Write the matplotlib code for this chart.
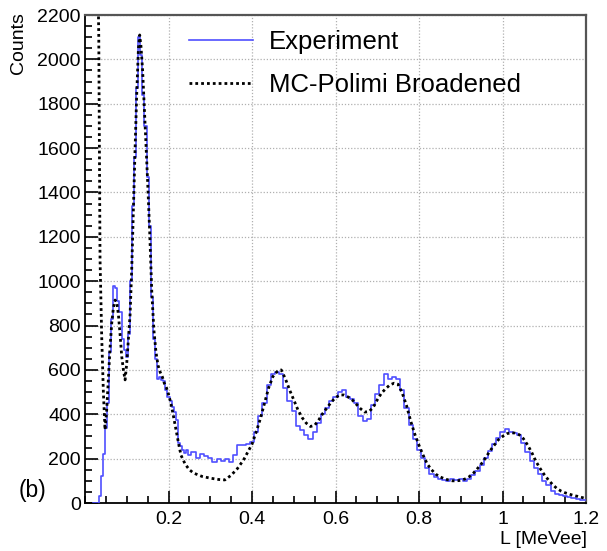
import numpy as np
import matplotlib
matplotlib.use("Agg")
import matplotlib.pyplot as plt
from matplotlib.ticker import MultipleLocator, FixedLocator, FixedFormatter

plt.rcParams['font.family'] = ['Liberation Sans', 'DejaVu Sans']

# ---------------- data ----------------
# Experiment histogram: bin centres (fine bins below 0.25 MeVee, 0.01 above)
exp_L = np.round(np.r_[np.arange(0.020, 0.2499, 0.005), np.arange(0.25, 1.2001, 0.01)], 3)
exp_counts = [
    0, 0, 0, 30, 120, 220, 340, 450, 680, 830,          # 0.020-0.065
    980, 970, 910, 860, 740, 690, 660, 760, 1000, 1340,  # 0.070-0.115
    1560, 1870, 2100, 2020, 1840, 1700, 1470, 1250, 930, 740,  # 0.120-0.165
    650, 560, 570, 555, 550, 510, 480, 460, 435, 410,    # 0.170-0.215
    374, 270, 255, 240, 225, 240,                        # 0.220-0.245
    215, 228, 205, 220, 210, 205, 185, 200, 190, 200,    # 0.25-0.34
    185, 215, 260, 262, 268, 275, 320, 390, 450, 530,    # 0.35-0.44
    580, 590, 580, 520, 460, 415, 345, 330, 305, 290,    # 0.45-0.54
    320, 360, 400, 430, 460, 480, 500, 510, 480, 470,    # 0.55-0.64
    450, 390, 370, 380, 440, 490, 530, 580, 560, 570,    # 0.65-0.74
    560, 510, 430, 350, 290, 240, 205, 160, 130, 118,    # 0.75-0.84
    110, 104, 100, 108, 104, 110, 98, 110, 125, 145,     # 0.85-0.94
    170, 205, 235, 265, 295, 320, 335, 320, 315, 305,    # 0.95-1.04
    270, 230, 190, 160, 130, 100, 80, 55, 40, 35,        # 1.05-1.14
    30, 28, 22, 20, 15, 12,                              # 1.15-1.20
]

# MC-Polimi broadened simulation
mc_L = [0.030, 0.033, 0.036, 0.040, 0.044, 0.048, 0.052, 0.056, 0.060, 0.064,
        0.068, 0.072, 0.076, 0.080, 0.084, 0.088, 0.092, 0.096, 0.100, 0.104,
        0.108, 0.112, 0.116, 0.120, 0.124, 0.128, 0.131, 0.134, 0.138, 0.142,
        0.146, 0.150, 0.155, 0.160, 0.165, 0.170, 0.175, 0.180, 0.185, 0.190,
        0.195, 0.200, 0.205, 0.210, 0.215, 0.220, 0.225, 0.230, 0.240, 0.250,
        0.260, 0.280, 0.300, 0.320, 0.335, 0.350, 0.365, 0.380, 0.390, 0.400,
        0.410, 0.420, 0.430, 0.440, 0.450, 0.460, 0.470, 0.480, 0.490, 0.500,
        0.510, 0.520, 0.530, 0.540, 0.550, 0.560, 0.570, 0.580, 0.590, 0.600,
        0.610, 0.620, 0.630, 0.640, 0.650, 0.660, 0.670, 0.680, 0.690, 0.700,
        0.710, 0.720, 0.730, 0.740, 0.750, 0.760, 0.770, 0.780, 0.790, 0.800,
        0.810, 0.820, 0.830, 0.840, 0.850, 0.860, 0.870, 0.880, 0.890, 0.900,
        0.910, 0.920, 0.930, 0.940, 0.950, 0.960, 0.970, 0.980, 0.990, 1.000,
        1.010, 1.020, 1.030, 1.040, 1.050, 1.060, 1.070, 1.080, 1.090, 1.100,
        1.110, 1.120, 1.130, 1.140, 1.150, 1.160, 1.170, 1.180, 1.190, 1.200]
mc_counts = [2500, 2100, 1100, 750, 500, 330, 420, 560, 700, 810,
             880, 915, 905, 850, 760, 660, 600, 555, 630, 740,
             850, 1060, 1330, 1600, 1850, 2050, 2110, 2060, 1950, 1790,
             1620, 1450, 1220, 950, 780, 680, 620, 590, 570, 540,
             520, 490, 455, 410, 360, 310, 260, 215, 175, 150,
             135, 120, 112, 106, 104, 125, 155, 195, 230, 265,
             320, 380, 450, 520, 570, 592, 600, 560, 510, 465,
             420, 385, 360, 345, 350, 375, 405, 430, 455, 475,
             487, 487, 478, 465, 445, 425, 410, 412, 430, 465,
             495, 515, 532, 540, 535, 495, 440, 370, 310, 260,
             215, 175, 150, 130, 118, 110, 104, 100, 100, 102,
             108, 118, 134, 155, 178, 205, 235, 260, 285, 300,
             312, 317, 315, 308, 290, 262, 228, 188, 156, 128,
             104, 83, 66, 54, 46, 40, 34, 30, 25, 20]

x_ticks = [0.2, 0.4, 0.6, 0.8, 1.0, 1.2]
x_tick_labels = ["0.2", "0.4", "0.6", "0.8", "1", "1.2"]

# ---------------- figure ----------------
W, H = 607, 551
fig = plt.figure(figsize=(W / 100, H / 100), dpi=100)
ax = fig.add_axes([85 / W, 1 - 503 / H, (586 - 85) / W, (503 - 15) / H])

ax.step(exp_L, exp_counts, where='mid', color='#4f4fff', lw=1.2, label='Experiment', zorder=3)
ax.plot(mc_L, mc_counts, color='black', lw=2.0, linestyle=(0, (1, 1.1)),
        label='MC-Polimi Broadened', zorder=4)

ax.set_xlim(0, 1.2)
ax.set_ylim(0, 2200)

ax.xaxis.set_major_locator(FixedLocator(x_ticks))
ax.xaxis.set_major_formatter(FixedFormatter(x_tick_labels))
ax.xaxis.set_minor_locator(MultipleLocator(0.05))
ax.yaxis.set_major_locator(MultipleLocator(200))
ax.yaxis.set_minor_locator(MultipleLocator(50))

ax.tick_params(which='both', direction='in', top=False, right=False,
               labelsize=14, colors='black', width=1.2)
ax.tick_params(which='major', length=9)
ax.tick_params(which='minor', length=5)
ax.tick_params(axis='x', pad=6)
ax.tick_params(axis='y', pad=3)

ax.grid(True, which='major', color='#b0b0b0', linestyle=(0, (1, 1.5)), lw=0.9, zorder=0)
ax.set_axisbelow(True)

for s in ['left', 'bottom']:
    ax.spines[s].set_color('black')
    ax.spines[s].set_linewidth(1.3)
for s in ['top', 'right']:
    ax.spines[s].set_color('#555555')
    ax.spines[s].set_linewidth(1.6)

fig.text(19 / W, 1 - 12 / H, 'Counts', rotation=90, ha='center', va='top', fontsize=14)
fig.text(587 / W, 1 - 540 / H, 'L [MeVee]', ha='right', va='center', fontsize=14)
fig.text(33 / W, 1 - 491 / H, '(b)', ha='center', va='center', fontsize=16.5)

leg = ax.legend(loc='upper left', bbox_to_anchor=((189 - 85) / (586 - 85), 1 - (30 - 15) / (503 - 15)),
                frameon=False, fontsize=18.5, handlelength=2.5, handletextpad=0.6,
                labelspacing=0.75, borderaxespad=0, borderpad=0)

fig.savefig('out.png', dpi=100)
